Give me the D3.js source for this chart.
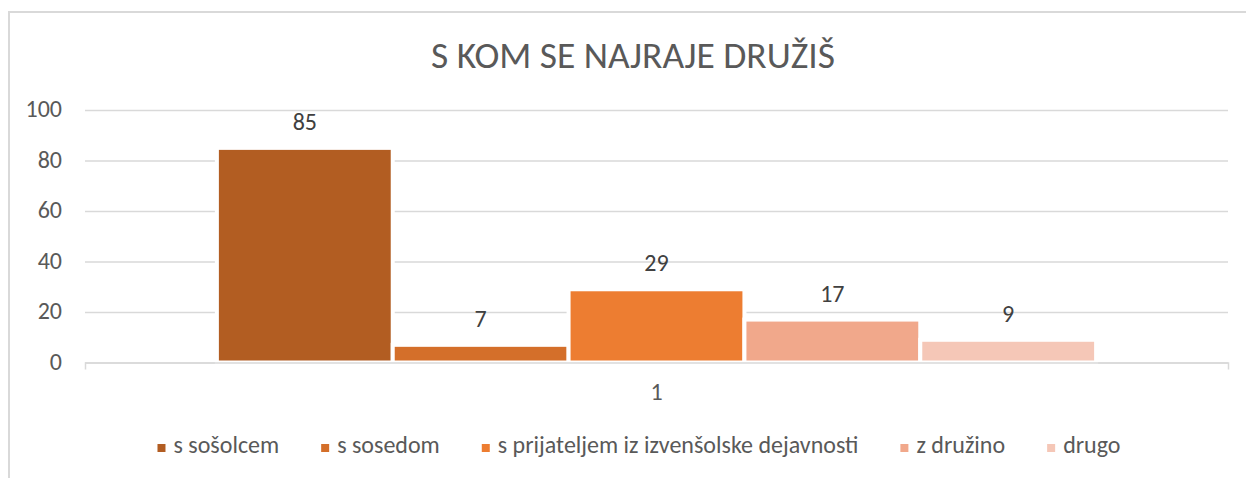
<!DOCTYPE html>
<html>
<head>
<meta charset="utf-8">
<script src="https://cdn.jsdelivr.net/npm/d3@7"></script>
<style>
  body { margin: 0; background: #fff; }
  text { font-family: Calibri, Carlito, Lato, sans-serif; fill: #595959; }
</style>
</head>
<body>
<div id="chart"></div>
<script>
// chart data
const TITLE = "S KOM SE NAJRAJE DRUŽIŠ";
const categories = ["1"];
const seriesNames = ["s sošolcem", "s sosedom", "s prijateljem iz izvenšolske dejavnosti", "z družino", "drugo"];
const values = [85, 7, 29, 17, 9];
const colors = ["#B25D22", "#D46F2A", "#ED7D31", "#F1A88B", "#F5C7B7"];
const yTicks = [0, 20, 40, 60, 80, 100];

const W = 1246, H = 478;
const plot = {left: 85, right: 1228, top: 110, bottom: 362.5};
const FONT = "24px";

const svg = d3.select("#chart").append("svg")
    .attr("width", W)
    .attr("height", H);

// chart area border (only top and left are in the frame)
svg.append("rect")
    .attr("x", 9).attr("y", 12)
    .attr("width", 1400).attr("height", 700)
    .attr("fill", "none")
    .attr("stroke", "#D9D9D9")
    .attr("stroke-width", 2);

// title
svg.append("text")
    .attr("x", 633)
    .attr("y", 68)
    .attr("text-anchor", "middle")
    .style("font-size", "37.5px")
    .style("font-weight", 300)
    .text(TITLE);

// scales
const y = d3.scaleLinear().domain([0, 100]).range([plot.bottom, plot.top]);

// excel gap width 150% -> padding 1.5 / 6.5
const x0 = d3.scaleBand()
    .domain(categories)
    .range([plot.left, plot.right])
    .paddingInner(1.5 / 6.5)
    .paddingOuter(0.75 / 6.5);

const x1 = d3.scaleBand()
    .domain(seriesNames)
    .range([0, x0.bandwidth()]);

// gridlines + y labels
const yAxis = svg.append("g")
    .attr("transform", `translate(${plot.left},0)`)
    .call(d3.axisLeft(y).tickValues(yTicks).tickSize(-(plot.right - plot.left)).tickPadding(23));
yAxis.attr("font-family", null).attr("font-size", null);
yAxis.select(".domain").remove();
yAxis.selectAll("line").attr("stroke", "#D9D9D9").attr("stroke-width", 1.5);
yAxis.selectAll("text")
    .attr("fill", null)
    .attr("dy", "0.29em")
    .style("font-size", FONT);

// bars
const rows = seriesNames.map((s, i) => ({name: s, value: values[i], color: colors[i], cat: categories[0]}));

const barG = svg.append("g");
barG.selectAll("rect")
    .data(rows)
    .join("rect")
    .attr("x", d => x0(d.cat) + x1(d.name))
    .attr("y", d => y(d.value))
    .attr("width", x1.bandwidth())
    .attr("height", d => y(0) - y(d.value))
    .attr("fill", d => d.color)
    .attr("stroke", "#fff")
    .attr("stroke-width", 4);

// data labels
barG.selectAll("text")
    .data(rows)
    .join("text")
    .attr("x", d => x0(d.cat) + x1(d.name) + x1.bandwidth() / 2)
    .attr("y", d => y(d.value) - 18)
    .attr("text-anchor", "middle")
    .style("font-size", FONT)
    .style("fill", "#404040")
    .text(d => d.value);

// category axis
const xAxis = svg.append("g")
    .attr("transform", `translate(0,${plot.bottom})`)
    .call(d3.axisBottom(x0).tickSizeInner(0).tickSizeOuter(7).tickPadding(20));
xAxis.attr("font-family", null).attr("font-size", null);
xAxis.select(".domain").attr("stroke", "#D9D9D9").attr("stroke-width", 1.5);
xAxis.selectAll("text")
    .attr("fill", null)
    .style("font-size", FONT);

// legend
const legend = svg.append("g");
const items = legend.selectAll("g")
    .data(rows)
    .join("g");
items.append("rect")
    .attr("width", 8)
    .attr("height", 8)
    .attr("y", -9)
    .attr("fill", d => d.color);
items.append("text")
    .attr("x", 16)
    .attr("y", 0)
    .style("font-size", FONT)
    .text(d => d.name);

let offset = 0;
items.each(function() {
    d3.select(this).attr("transform", `translate(${offset},0)`);
    const tw = d3.select(this).select("text").node().getComputedTextLength();
    offset += 16 + tw + 42;
});
const legendWidth = offset - 42;
legend.attr("transform", `translate(${639 - legendWidth / 2},453)`);
</script>
</body>
</html>
